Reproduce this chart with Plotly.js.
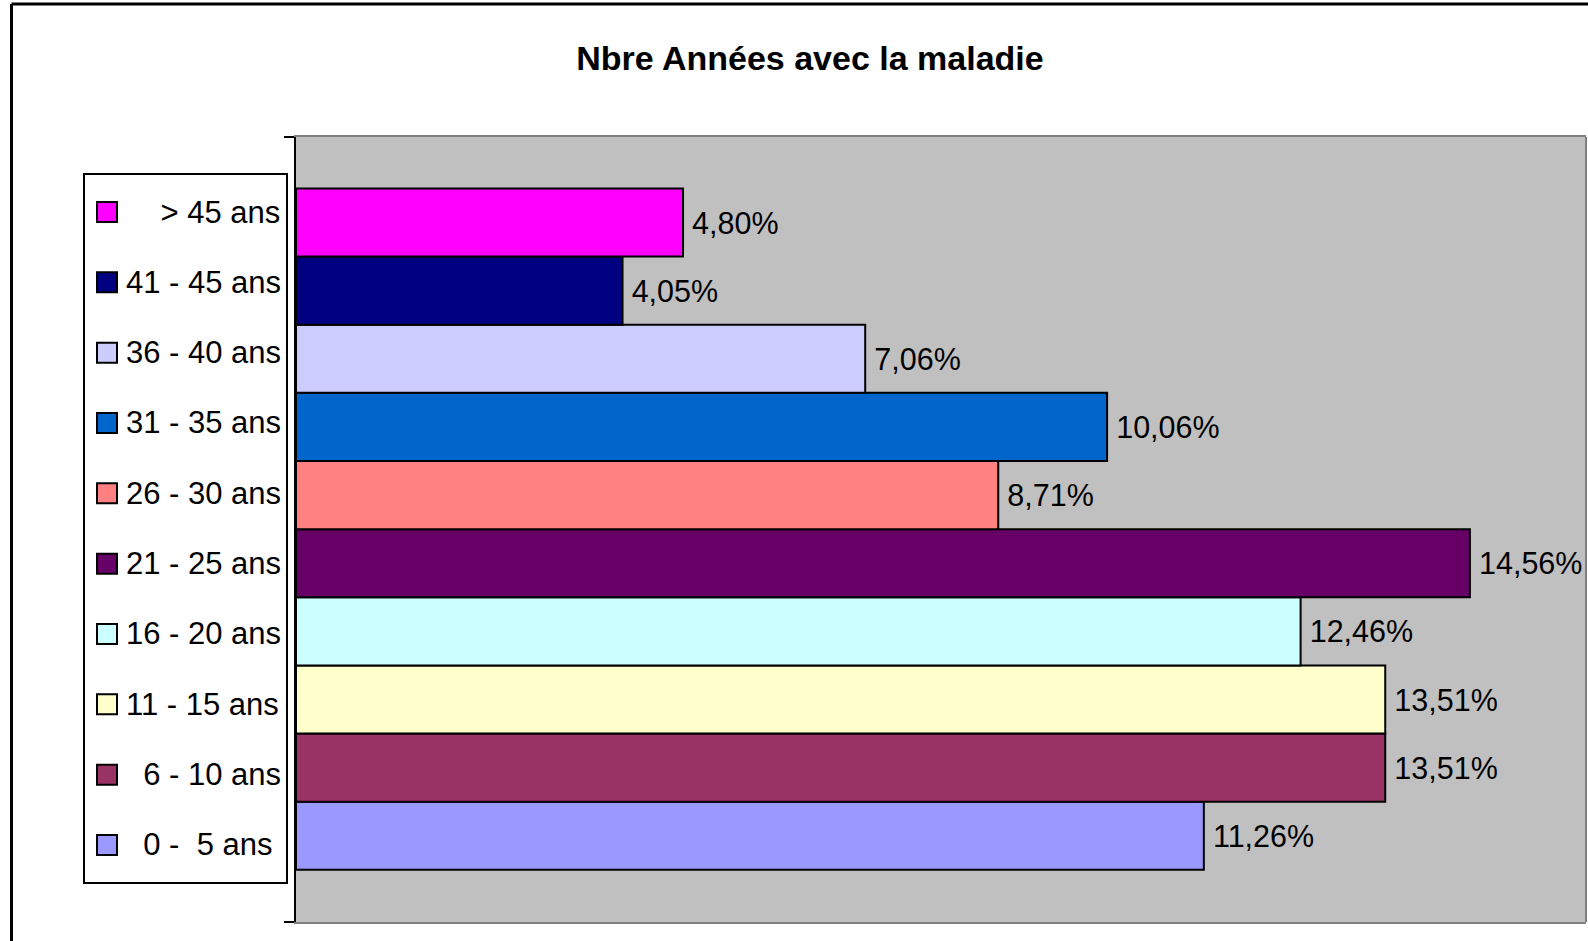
<!DOCTYPE html>
<html>
<head>
<meta charset="utf-8">
<script src="https://cdn.plot.ly/plotly-3.0.1.min.js"></script>
<style>
html,body{margin:0;padding:0;background:#fff;}
#chart{width:1588px;height:941px;}
</style>
</head>
<body>
<div id="chart"></div>
<script>
// ---- data ----
const categories = ['0 -  5 ans','6 - 10 ans','11 - 15 ans','16 - 20 ans','21 - 25 ans','26 - 30 ans','31 - 35 ans','36 - 40 ans','41 - 45 ans','> 45 ans'];
const values = [11.26, 13.51, 13.51, 12.46, 14.56, 8.71, 10.06, 7.06, 4.05, 4.80];
const valueLabels = ['11,26%','13,51%','13,51%','12,46%','14,56%','8,71%','10,06%','7,06%','4,05%','4,80%'];
const legendLabels = ['\u00a0\u00a00 -\u00a0\u00a05 ans','\u00a0\u00a06 - 10 ans','11 - 15 ans','16 - 20 ans','21 - 25 ans','26 - 30 ans','31 - 35 ans','36 - 40 ans','41 - 45 ans','\u00a0\u00a0\u00a0\u00a0> 45 ans'];
const colors = ['#9999FF','#993366','#FFFFCC','#CCFFFF','#660066','#FF8080','#0066CC','#CCCCFF','#000080','#FF00FF'];
const titleText = 'Nbre Années avec la maladie';

// ---- layout helpers ----
const W = 1588, H = 941;
const mL = 296, mR = 2, mT = 137, mB = 19;
const pw = W - mL - mR, ph = H - mT - mB;
const xp = px => (px - mL) / pw;
const yp = py => (H - mB - py) / ph;
const sans = "'Liberation Sans', Arial, sans-serif";
const yIdx = categories.map((c, i) => i);
const yRange = [-1.265, 10.255];

const trace = {
  type: 'bar',
  orientation: 'h',
  y: yIdx,
  x: values,
  width: 1,
  text: valueLabels,
  texttemplate: '\u2009%{text}',
  textposition: 'outside',
  cliponaxis: false,
  constraintext: 'none',
  textfont: {family: sans, size: 30.5, color: '#000'},
  marker: {color: colors, line: {color: '#000', width: 2}},
  hoverinfo: 'skip',
  showlegend: false
};

const shapes = [
  // plot right border
  {type:'line', xref:'paper', yref:'paper', x0:1, x1:1, y0:0, y1:1, line:{color:'#808080', width:2}, layer:'above'},
  // outer chart frame (left & top visible)
  {type:'line', xref:'paper', yref:'paper', x0:xp(11.5), x1:xp(11.5), y0:yp(4), y1:yp(960), line:{color:'#000', width:3}},
  {type:'line', xref:'paper', yref:'paper', x0:xp(11.5), x1:xp(1620), y0:yp(4), y1:yp(4), line:{color:'#000', width:3}},
  // legend box
  {type:'rect', xref:'paper', yref:'paper', x0:xp(84), x1:xp(287), y0:yp(883), y1:yp(174), line:{color:'#000', width:2}, fillcolor:'#fff'}
];
const annotations = [];
const legTop = 212, legStep = 70.33;
for (let k = 0; k < categories.length; k++) {
  const i = categories.length - 1 - k; // top entry is last category
  const cy = legTop + k * legStep;
  shapes.push({type:'rect', xref:'paper', yref:'paper', x0:xp(97), x1:xp(117), y0:yp(cy + 10), y1:yp(cy - 10), line:{color:'#000', width:2}, fillcolor:colors[i]});
  annotations.push({xref:'paper', yref:'paper', x:xp(124), y:yp(cy), xanchor:'left', yanchor:'middle', showarrow:false, text:legendLabels[i], font:{family:sans, size:31, color:'#000'}});
}

const layout = {
  width: W, height: H,
  margin: {l: mL, r: mR, t: mT, b: mB, pad: 0},
  paper_bgcolor: '#fff',
  plot_bgcolor: '#C0C0C0',
  title: {text: titleText, font: {family: sans, size: 34, color: '#000', weight: 'bold'}, x: 810 / W, xref: 'container', xanchor: 'center', y: 1 - 58 / H, yref: 'container', yanchor: 'middle'},
  xaxis: {range: [0, 16], showgrid: false, zeroline: false, showticklabels: false, ticks: '', showline: true, mirror: true, linecolor: '#808080', linewidth: 2, fixedrange: true},
  yaxis: {range: yRange, showgrid: false, zeroline: false, showticklabels: false, tickmode: 'array', tickvals: yRange, ticks: 'outside', ticklen: 10, tickwidth: 2, tickcolor: '#000', showline: true, linecolor: '#000', linewidth: 2, fixedrange: true},
  bargap: 0,
  shapes: shapes,
  annotations: annotations,
  showlegend: false
};

Plotly.newPlot('chart', [trace], layout, {displayModeBar: false, staticPlot: true});
</script>
</body>
</html>
